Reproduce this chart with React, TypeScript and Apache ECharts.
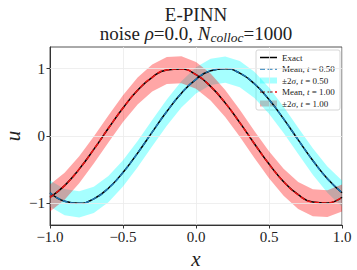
import React, { useEffect, useRef } from "react";
import * as echarts from "echarts";

const xValues = [-1.0, -0.9, -0.8, -0.7, -0.6, -0.5, -0.4, -0.3, -0.2, -0.1, 0.0, 0.1, 0.2, 0.3, 0.4, 0.5, 0.6, 0.7, 0.8, 0.9, 1.0];

const exactT05 = [-0.841, -0.967, -0.998, -0.932, -0.774, -0.540, -0.254, 0.058, 0.363, 0.633, 0.841, 0.967, 0.998, 0.932, 0.774, 0.540, 0.254, -0.058, -0.363, -0.633, -0.841];
const meanT05 = [-0.841, -0.967, -0.998, -0.932, -0.774, -0.540, -0.254, 0.058, 0.363, 0.633, 0.841, 0.967, 0.998, 0.932, 0.774, 0.540, 0.254, -0.058, -0.363, -0.633, -0.841];
const lowerT05 = [-1.051, -1.177, -1.208, -1.142, -0.984, -0.750, -0.464, -0.152, 0.153, 0.423, 0.631, 0.757, 0.788, 0.722, 0.564, 0.330, 0.044, -0.268, -0.573, -0.843, -1.051];
const upperT05 = [-0.661, -0.787, -0.818, -0.752, -0.594, -0.360, -0.074, 0.238, 0.543, 0.813, 1.021, 1.147, 1.178, 1.112, 0.954, 0.720, 0.434, 0.122, -0.183, -0.453, -0.661];

const exactT10 = [-0.909, -0.736, -0.491, -0.198, 0.115, 0.416, 0.677, 0.871, 0.980, 0.993, 0.909, 0.736, 0.491, 0.198, -0.115, -0.416, -0.677, -0.871, -0.980, -0.993, -0.909];
const meanT10 = [-0.909, -0.736, -0.491, -0.198, 0.115, 0.416, 0.677, 0.871, 0.980, 0.993, 0.909, 0.736, 0.491, 0.198, -0.115, -0.416, -0.677, -0.871, -0.980, -0.993, -0.909];
const lowerT10 = [-1.119, -0.946, -0.701, -0.408, -0.095, 0.206, 0.467, 0.661, 0.770, 0.783, 0.699, 0.526, 0.281, -0.012, -0.325, -0.626, -0.887, -1.081, -1.190, -1.203, -1.119];
const upperT10 = [-0.719, -0.546, -0.301, -0.008, 0.305, 0.606, 0.867, 1.061, 1.170, 1.183, 1.099, 0.926, 0.681, 0.388, 0.075, -0.226, -0.487, -0.681, -0.790, -0.803, -0.719];

const yTicks = [-1, 0, 1];

const SERIF = "Liberation Serif, DejaVu Serif, serif";
const CYAN_FILL = "rgba(0,255,255,0.35)";
const RED_FILL = "rgba(255,0,0,0.35)";
const BLUE = "#1f77b4";
const RED = "#ee1111";

const fmt = (v: number, d: number) => (v < 0 ? "\u2212" : "") + Math.abs(v).toFixed(d);

function bandSeries(name: string, lower: number[], upper: number[], color: string) {
  return {
    name,
    type: "custom",
    clip: true,
    z: 2,
    data: [0],
    renderItem: (_params: any, api: any) => {
      const pts: number[][] = [];
      for (let i = 0; i < xValues.length; i++) pts.push(api.coord([xValues[i], upper[i]]));
      for (let i = xValues.length - 1; i >= 0; i--) pts.push(api.coord([xValues[i], lower[i]]));
      return { type: "polygon", shape: { points: pts, smooth: 0 }, style: { fill: color, stroke: "none" } };
    },
  };
}

function lineSeries(name: string, ys: number[], color: string, dashed: boolean) {
  return {
    name,
    type: "line",
    z: 3,
    smooth: true,
    symbol: "none",
    data: xValues.map((x, i) => [x, ys[i]]),
    lineStyle: { color, width: 1.5, type: dashed ? [5, 2.5] : "solid" },
  };
}

export default function App() {
  const ref = useRef<HTMLDivElement>(null);
  useEffect(() => {
    document.body.style.margin = "0";
    const chart = echarts.init(ref.current!, null, { renderer: "svg" });
    const lx = 256, ly = 50, lw = 84, lh = 60;
    const rows = [57.5, 69, 80.5, 92, 103.5];
    const richT = {
      n: { fontFamily: SERIF, fontSize: 9, fill: "#222" },
      i: { fontFamily: SERIF, fontSize: 9, fontStyle: "italic", fill: "#222" },
    };
    const legendItems: any[] = [
      { type: "rect", shape: { x: lx, y: ly, width: lw, height: lh, r: 2 }, style: { fill: "rgba(255,255,255,0.85)", stroke: "#cccccc", lineWidth: 0.8 } },
      { type: "line", shape: { x1: 260, y1: rows[0], x2: 277, y2: rows[0] }, style: { stroke: "#000", lineWidth: 1.5 } },
      { type: "line", shape: { x1: 260, y1: rows[1], x2: 277, y2: rows[1] }, style: { stroke: BLUE, lineWidth: 1.5, lineDash: [5, 2.5] } },
      { type: "rect", shape: { x: 260, y: rows[2] - 3, width: 17, height: 6 }, style: { fill: CYAN_FILL } },
      { type: "line", shape: { x1: 260, y1: rows[3], x2: 277, y2: rows[3] }, style: { stroke: RED, lineWidth: 1.5, lineDash: [5, 2.5] } },
      { type: "rect", shape: { x: 260, y: rows[4] - 3, width: 17, height: 6 }, style: { fill: RED_FILL } },
    ];
    const labels = [
      "{n|Exact}",
      "{n|Mean, }{i|t}{n| = 0.50}",
      "{n|\u00b12}{i|\u03c3}{n|, }{i|t}{n| = 0.50}",
      "{n|Mean, }{i|t}{n| = 1.00}",
      "{n|\u00b12}{i|\u03c3}{n|, }{i|t}{n| = 1.00}",
    ];
    labels.forEach((t, k) =>
      legendItems.push({
        type: "text",
        x: 282,
        y: rows[k],
        style: { text: t, rich: richT, verticalAlign: "middle", align: "left" },
      })
    );

    chart.setOption({
      animation: false,
      grid: { left: 50, right: 15, top: 47, bottom: 45, outerBoundsMode: "none", containLabel: false, show: true, borderColor: "#555", borderWidth: 1 },
      xAxis: {
        type: "value",
        min: -1,
        max: 1,
        interval: 0.5,
        name: "x",
        nameLocation: "middle",
        nameGap: 20,
        nameTextStyle: { fontFamily: SERIF, fontStyle: "italic", fontSize: 21, color: "#222" },
        axisLine: { onZero: false, lineStyle: { color: "#333", width: 1 } },
        axisTick: { show: true, inside: false, length: 3.5, lineStyle: { color: "#333" } },
        axisLabel: { formatter: (v: number) => fmt(v, 1), fontFamily: SERIF, fontSize: 15, color: "#222", margin: 4 },
        splitLine: { show: true, lineStyle: { color: "#ebebeb", width: 0.8 } },
      },
      yAxis: {
        type: "value",
        min: -1.32,
        max: 1.32,
        axisLine: { show: true, onZero: false, lineStyle: { color: "#333", width: 1 } },
        axisTick: { show: true, inside: false, length: 3.5, customValues: yTicks, lineStyle: { color: "#333" } },
        axisLabel: { customValues: yTicks, formatter: (v: number) => fmt(v, 0), fontFamily: SERIF, fontSize: 15, color: "#222", margin: 5 },
        splitLine: { show: false },
      },
      series: [
        {
          name: "grid",
          type: "line",
          z: 1,
          symbol: "none",
          data: [[-1, 0]],
          lineStyle: { opacity: 0 },
          markLine: {
            silent: true,
            symbol: "none",
            label: { show: false },
            lineStyle: { color: "#ebebeb", width: 0.8, type: "solid" },
            data: yTicks.map((v) => ({ yAxis: v })),
          },
        },
        bandSeries("\u00b12\u03c3, t = 0.50", lowerT05, upperT05, CYAN_FILL),
        bandSeries("\u00b12\u03c3, t = 1.00", lowerT10, upperT10, RED_FILL),
        lineSeries("Exact t=0.50", exactT05, "#000", false),
        lineSeries("Mean, t = 0.50", meanT05, BLUE, true),
        lineSeries("Exact t=1.00", exactT10, "#000", false),
        lineSeries("Mean, t = 1.00", meanT10, RED, true),
      ],
      graphic: [
        {
          type: "text",
          x: 196,
          y: 14,
          style: { text: "E-PINN", fontFamily: SERIF, fontSize: 19, fill: "#222", align: "center", verticalAlign: "middle" },
        },
        {
          type: "text",
          x: 196,
          y: 33,
          style: {
            text: "{n|noise }{i|\u03c1}{n|=0.0, }{i|N}{s|colloc}{n|=1000}",
            align: "center",
            verticalAlign: "middle",
            rich: {
              n: { fontFamily: SERIF, fontSize: 19, fill: "#222", lineHeight: 20 },
              i: { fontFamily: SERIF, fontSize: 19, fontStyle: "italic", fill: "#222", lineHeight: 20 },
              s: { fontFamily: SERIF, fontSize: 13.5, fontStyle: "italic", fill: "#222", lineHeight: 12, padding: [8, 0, 0, 0] },
            },
          },
        },
        {
          type: "text",
          x: 13,
          y: 136,
          rotation: Math.PI / 2,
          style: { text: "u", fontFamily: SERIF, fontSize: 21, fontStyle: "italic", fill: "#222", align: "center", verticalAlign: "middle" },
        },
        ...legendItems,
      ],
    });
    return () => chart.dispose();
  }, []);
  return <div ref={ref} style={{ width: 357, height: 270 }} />;
}
